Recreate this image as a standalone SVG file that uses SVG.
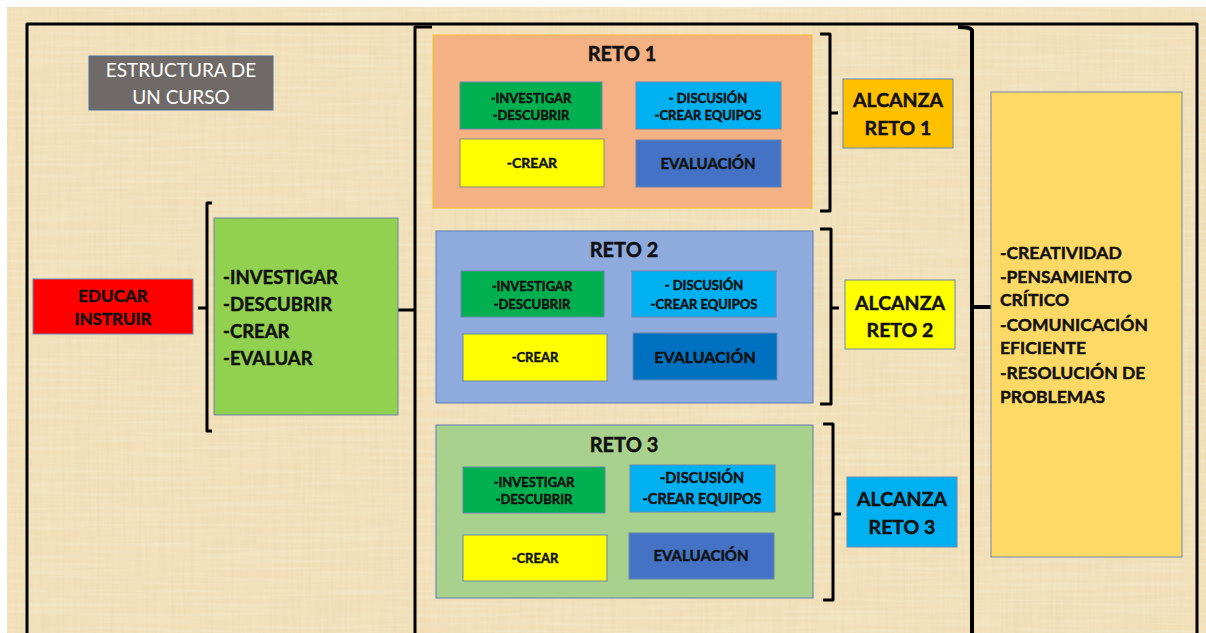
<svg xmlns="http://www.w3.org/2000/svg" width="1206" height="633" viewBox="0 0 1206 633">
  <defs>
    <!-- woven parchment grain: vertical and horizontal fibres -->
    <filter id="grainV" x="0" y="0" width="100%" height="100%">
      <feTurbulence type="fractalNoise" baseFrequency="0.35 0.012" numOctaves="2" seed="4"/>
      <feColorMatrix type="matrix" values="0 0 0 0 0.78  0 0 0 0 0.65  0 0 0 0 0.40  0 0 0 1.1 -0.45"/>
    </filter>
    <filter id="grainH" x="0" y="0" width="100%" height="100%">
      <feTurbulence type="fractalNoise" baseFrequency="0.01 0.3" numOctaves="2" seed="9"/>
      <feColorMatrix type="matrix" values="0 0 0 0 0.98  0 0 0 0 0.95  0 0 0 0 0.86  0 0 0 0.9 -0.35"/>
    </filter>
    <style>
      .t { font-family: Lato, "Open Sans", "Liberation Sans", sans-serif; font-weight: 700; fill: #111; stroke: #111; stroke-width: 0.45; }
      .c { text-anchor: middle; }
      .box { stroke: #6a86b0; stroke-width: 1; }
      .ln { fill: none; stroke: #000; stroke-width: 3; stroke-linejoin: round; stroke-linecap: butt; }
    </style>
  </defs>

  <rect width="1206" height="633" fill="#ffffff"/>
  <rect x="7" y="7" width="1199" height="626" fill="#f1e0b9"/>
  <rect x="7" y="7" width="1199" height="626" filter="url(#grainV)" opacity="0.6"/>
  <rect x="7" y="7" width="1199" height="626" filter="url(#grainH)" opacity="0.5"/>

  <!-- frame, braces and brackets -->
  <g id="connectors">
    <path class="ln" d="M27 633V24H1197V633"/>
    <path class="ln" d="M212 203H207V431H212M198 308H207"/>
    <path class="ln" d="M432 27H415V633M398 310H415"/>
    <path class="ln" d="M958 27Q972 27 972 31V633M972 307H991" style="stroke-width:4"/>
    <path class="ln" d="M820 34H830V211H820M830 113H838"/>
    <path class="ln" d="M820 229H831V404H820M831 308H839"/>
    <path class="ln" d="M823 424H833V600H823M833 514H841"/>
  </g>

  <g id="titulo">
    <rect x="89" y="56" width="184" height="54" fill="#6f6a67" stroke="#4e6e9e" stroke-width="1"/>
    <text class="c" x="181" y="77" style="font-family: Lato, 'Open Sans', 'Liberation Sans', sans-serif; font-size:19px; fill:#fff">ESTRUCTURA DE</text>
    <text class="c" x="181" y="104" style="font-family: Lato, 'Open Sans', 'Liberation Sans', sans-serif; font-size:19px; fill:#fff">UN CURSO</text>
  </g>

  <g id="educar">
    <rect class="box" x="33" y="279" width="160" height="55" fill="#ff0000"/>
    <text class="t c" x="113" y="302" font-size="17">EDUCAR</text>
    <text class="t c" x="113" y="325" font-size="17">INSTRUIR</text>
  </g>

  <g id="acciones">
    <rect class="box" x="214" y="218" width="184" height="197" fill="#92d050"/>
    <text class="t" x="223" y="284" font-size="18.5">-INVESTIGAR</text>
    <text class="t" x="223" y="311" font-size="18.5">-DESCUBRIR</text>
    <text class="t" x="223" y="338" font-size="18.5">-CREAR</text>
    <text class="t" x="223" y="365" font-size="18.5">-EVALUAR</text>
  </g>

  <g id="reto1">
    <rect x="433" y="35" width="379" height="173" fill="#f4b183" stroke="#f5c02a" stroke-width="1"/>
    <text class="t c" x="622" y="61" font-size="20">RETO 1</text>
    <rect class="box" x="460" y="82" width="142" height="47" fill="#00b050"/>
    <text class="t c" x="531" y="103" font-size="13">-INVESTIGAR</text>
    <text class="t c" x="531" y="120" font-size="13">-DESCUBRIR</text>
    <rect class="box" x="636" y="82" width="145" height="47" fill="#00b0f0"/>
    <text class="t c" x="708" y="103" font-size="13">- DISCUSIÓN</text>
    <text class="t c" x="708" y="120" font-size="13">-CREAR EQUIPOS</text>
    <rect class="box" x="460" y="139" width="144" height="48" fill="#ffff00" style="stroke:#8a8a8a"/>
    <text class="t c" x="532" y="168" font-size="14">-CREAR</text>
    <rect class="box" x="636" y="140" width="145" height="47" fill="#4472c4"/>
    <text class="t c" x="708" y="169" font-size="15">EVALUACIÓN</text>
  </g>

  <g id="reto2">
    <rect x="436" y="231" width="377" height="172" fill="#8faadc" stroke="#5a7db5" stroke-width="1"/>
    <text class="t c" x="624" y="257" font-size="20">RETO 2</text>
    <rect class="box" x="461" y="271" width="143" height="46" fill="#00b050"/>
    <text class="t c" x="532" y="291" font-size="13">-INVESTIGAR</text>
    <text class="t c" x="532" y="309" font-size="13">-DESCUBRIR</text>
    <rect class="box" x="632" y="271" width="144" height="46" fill="#00b0f0"/>
    <text class="t c" x="704" y="290" font-size="13">- DISCUSIÓN</text>
    <text class="t c" x="704" y="309" font-size="13">-CREAR EQUIPOS</text>
    <rect class="box" x="463" y="334" width="144" height="47" fill="#ffff00"/>
    <text class="t c" x="535" y="362" font-size="13">-CREAR</text>
    <rect class="box" x="633" y="333" width="144" height="47" fill="#0070c0"/>
    <text class="t c" x="705" y="363" font-size="16">EVALUACIÓN</text>
  </g>

  <g id="reto3">
    <rect x="436" y="425" width="377" height="173" fill="#a9d18e" stroke="#5a7db5" stroke-width="1"/>
    <text class="t c" x="624" y="452" font-size="20">RETO 3</text>
    <rect class="box" x="463" y="467" width="142" height="46" fill="#00b050"/>
    <text class="t c" x="534" y="487" font-size="13">-INVESTIGAR</text>
    <text class="t c" x="534" y="504" font-size="13">-DESCUBRIR</text>
    <rect class="box" x="630" y="465" width="145" height="47" fill="#00b0f0"/>
    <text class="t c" x="702" y="483" font-size="14.5">-DISCUSIÓN</text>
    <text class="t c" x="702" y="504" font-size="14.5">-CREAR EQUIPOS</text>
    <rect class="box" x="463" y="535" width="144" height="46" fill="#ffff00"/>
    <text class="t c" x="535" y="563" font-size="13">-CREAR</text>
    <rect class="box" x="629" y="533" width="145" height="46" fill="#4472c4"/>
    <text class="t c" x="701" y="561" font-size="15">EVALUACIÓN</text>
  </g>

  <g id="alcanza1">
    <rect class="box" x="843" y="79" width="110" height="69" fill="#ffc000"/>
    <text class="t c" x="898" y="107" font-size="19.5">ALCANZA</text>
    <text class="t c" x="898" y="135" font-size="19.5">RETO 1</text>
  </g>

  <g id="alcanza2">
    <rect class="box" x="845" y="280" width="110" height="69" fill="#ffff00"/>
    <text class="t c" x="900" y="310" font-size="19.5">ALCANZA</text>
    <text class="t c" x="900" y="337" font-size="19.5">RETO 2</text>
  </g>

  <g id="alcanza3">
    <rect class="box" x="847" y="477" width="110" height="70" fill="#00b0f0"/>
    <text class="t c" x="902" y="506" font-size="19.5">ALCANZA</text>
    <text class="t c" x="902" y="534" font-size="19.5">RETO 3</text>
  </g>

  <g id="competencias">
    <rect x="991" y="92" width="191" height="465" fill="#ffd966" stroke="#8a96a6" stroke-width="1.2"/>
    <text class="t" x="1000" y="259" font-size="17.5">-CREATIVIDAD</text>
    <text class="t" x="1000" y="283" font-size="17.5">-PENSAMIENTO</text>
    <text class="t" x="1000" y="306" font-size="17.5">CRÍTICO</text>
    <text class="t" x="1000" y="331" font-size="17.5">-COMUNICACIÓN</text>
    <text class="t" x="1000" y="354" font-size="17.5">EFICIENTE</text>
    <text class="t" x="1000" y="379" font-size="17.5">-RESOLUCIÓN DE</text>
    <text class="t" x="1000" y="403" font-size="17.5">PROBLEMAS</text>
  </g>
</svg>
